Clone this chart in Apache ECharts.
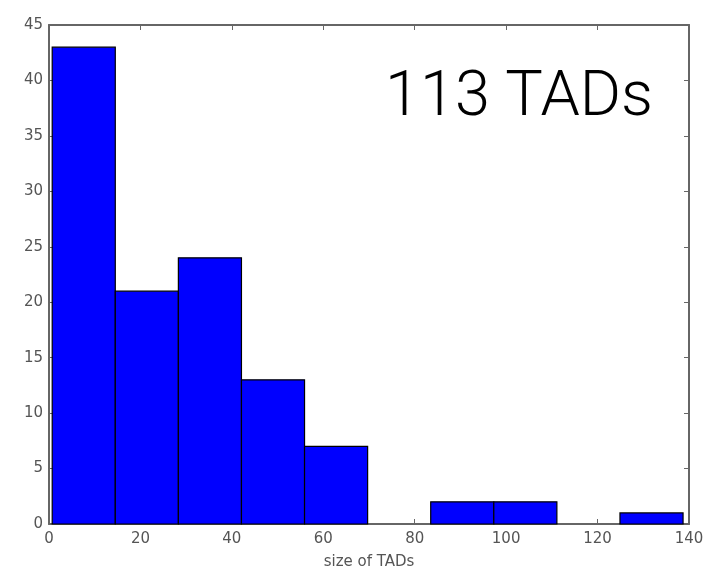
<!DOCTYPE html>
<html>
<head>
<meta charset="utf-8">
<script src="https://cdn.jsdelivr.net/npm/echarts@6/dist/echarts.min.js"></script>
<style>html,body{margin:0;padding:0;background:#fff}#c{width:709px;height:574px}</style>
</head>
<body>
<div id="c"></div>
<script>
// Histogram data
var binStart = 0.7;
var binWidth = 13.8;
var counts = [43, 21, 24, 13, 7, 0, 2, 2, 0, 1];
var xTicks = [0, 20, 40, 60, 80, 100, 120, 140];
var yTicks = [0, 5, 10, 15, 20, 25, 30, 35, 40, 45];
var annotation = '113 TADs';
var xName = 'size of TADs';

var data = counts.map(function (c, i) {
  return [binStart + i * binWidth, binStart + (i + 1) * binWidth, c];
});

var chart = echarts.init(document.getElementById('c'));
var axisCol = '#666';
var labelCol = '#555';
var tick = { show: true, inside: true, length: 5, lineStyle: { color: axisCol, width: 1 } };
function xAx(pos, showLabel) {
  return {
    type: 'value', min: xTicks[0], max: xTicks[xTicks.length - 1], interval: 20, position: pos,
    show: true,
    name: showLabel ? xName : '', nameLocation: 'middle', nameGap: 31,
    nameTextStyle: { color: labelCol, fontSize: 15, fontFamily: 'DejaVu Sans' },
    axisLine: { show: true, onZero: false, lineStyle: { color: axisCol, width: 2 } },
    axisTick: tick,
    axisLabel: { show: showLabel, color: labelCol, fontSize: 15, margin: 8, fontFamily: 'DejaVu Sans' },
    splitLine: { show: false }
  };
}
function yAx(pos, showLabel) {
  return {
    type: 'value', min: yTicks[0], max: yTicks[yTicks.length - 1], interval: 5, position: pos,
    show: true,
    axisLine: { show: true, onZero: false, lineStyle: { color: axisCol, width: 2 } },
    axisTick: tick,
    axisLabel: { show: showLabel, color: labelCol, fontSize: 15, margin: 6, fontFamily: 'DejaVu Sans' },
    splitLine: { show: false }
  };
}
chart.setOption({
  animation: false,
  grid: { left: 49, top: 25, right: 20, bottom: 50, show: false, containLabel: false, outerBoundsMode: 'none' },
  xAxis: [xAx('bottom', true), xAx('top', false)],
  yAxis: [yAx('left', true), yAx('right', false)],
  series: [{
    type: 'custom',
    xAxisIndex: 0, yAxisIndex: 0,
    data: data,
    renderItem: function (params, api) {
      var v = api.value(2);
      if (v <= 0) return null;
      var p0 = api.coord([api.value(0), v]);
      var p1 = api.coord([api.value(1), 0]);
      return {
        type: 'rect',
        shape: { x: p0[0], y: p0[1], width: p1[0] - p0[0], height: p1[1] - p0[1] },
        style: { fill: '#0000ff', stroke: '#000', lineWidth: 1.2 }
      };
    },
    encode: { x: [0, 1], y: 2 },
    z: 1
  }, {
    type: 'line', xAxisIndex: 1, yAxisIndex: 1, data: [], silent: true
  }],
  graphic: [{
    type: 'text', left: 385, top: 68, z: 10,
    style: { text: annotation, fill: '#000', font: '300 63px Roboto, "Liberation Sans", sans-serif' }
  }]
});
</script>
</body>
</html>
